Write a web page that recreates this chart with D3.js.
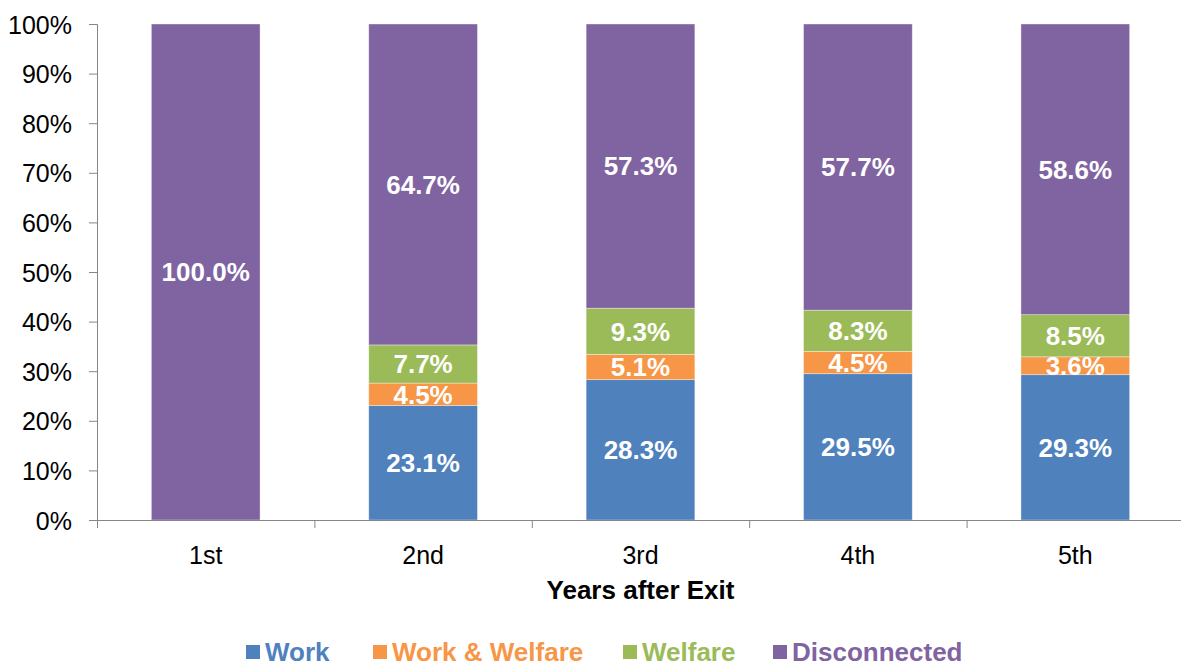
<!DOCTYPE html>
<html>
<head>
<meta charset="utf-8">
<script src="https://cdn.jsdelivr.net/npm/d3@7"></script>
<style>
  body { margin: 0; background: #fff; }
  svg { display: block; font-family: "Liberation Sans", Arial, sans-serif; }
  .axis path, .axis line { stroke: #868686; }
</style>
</head>
<body>
<div id="chart"></div>
<script>
var years = ["1st", "2nd", "3rd", "4th", "5th"];
var seriesNames = ["Work", "Work & Welfare", "Welfare", "Disconnected"];
var work = [0, 23.1, 28.3, 29.5, 29.3];
var workWelfare = [0, 4.5, 5.1, 4.5, 3.6];
var welfare = [0, 7.7, 9.3, 8.3, 8.5];
var disconnected = [100.0, 64.7, 57.3, 57.7, 58.6];
var yTicks = [0, 10, 20, 30, 40, 50, 60, 70, 80, 90, 100];
var colors = ["#4F81BD", "#F79646", "#9BBB59", "#8064A2"];

var svgWidth = 1181;
var svgHeight = 671;
var margin = {top: 24, right: -3, bottom: 151, left: 97};
var chartWidth = svgWidth - margin.left - margin.right;
var chartHeight = svgHeight - margin.top - margin.bottom;

var svg = d3.select("#chart")
  .append("svg")
  .attr("width", svgWidth)
  .attr("height", svgHeight);

var chartGroup = svg.append("g")
  .attr("transform", `translate(${margin.left},${margin.top})`);

// rows for the stack
var rows = years.map(function(y, i) {
  return {
    year: y,
    "Work": work[i],
    "Work & Welfare": workWelfare[i],
    "Welfare": welfare[i],
    "Disconnected": disconnected[i]
  };
});

var stacked = d3.stack().keys(seriesNames)(rows);

var x = d3.scaleBand()
  .domain(years)
  .range([0, chartWidth])
  .paddingInner(0.5)
  .paddingOuter(0.25);

var y = d3.scaleLinear()
  .domain([0, 100])
  .range([chartHeight, 0]);

var color = d3.scaleOrdinal().domain(seriesNames).range(colors);

// bars
var layers = chartGroup.selectAll("g.layer")
  .data(stacked)
  .enter()
  .append("g")
  .attr("class", "layer")
  .attr("fill", d => color(d.key));

layers.selectAll("rect")
  .data(d => d.filter(p => p[1] - p[0] > 0))
  .enter()
  .append("rect")
  .attr("x", d => x(d.data.year))
  .attr("y", d => y(d[1]))
  .attr("width", x.bandwidth())
  .attr("height", d => y(d[0]) - y(d[1]))
  .attr("stroke", "#ffffff")
  .attr("stroke-opacity", 0.45)
  .attr("stroke-width", 0.8);

// labels inside segments
layers.selectAll("text")
  .data(d => d.filter(p => p[1] - p[0] > 0))
  .enter()
  .append("text")
  .attr("x", d => x(d.data.year) + x.bandwidth() / 2)
  .attr("y", d => y((d[0] + d[1]) / 2))
  .attr("dy", "0.36em")
  .attr("text-anchor", "middle")
  .attr("fill", "#ffffff")
  .style("font-size", "26px")
  .style("font-weight", "bold")
  .text(d => (d[1] - d[0]).toFixed(1) + "%");

// y axis
var yAxis = chartGroup.append("g")
  .attr("class", "axis")
  .call(d3.axisLeft(y).tickValues(yTicks).tickSize(8).tickPadding(17).tickFormat(d => d + "%"));
yAxis.select(".domain").attr("d", `M-8,0.5H0.5V${chartHeight}`);
yAxis.selectAll("text")
  .attr("fill", "#000")
  .style("font-size", "25px")
  .attr("dy", "0.36em");

// x axis baseline, labels and boundary ticks
var xAxis = chartGroup.append("g")
  .attr("class", "axis")
  .attr("transform", `translate(0, ${chartHeight})`)
  .call(d3.axisBottom(x).tickSize(0).tickPadding(26));
xAxis.select(".domain").attr("d", `M0,0.5H${chartWidth}`);
xAxis.selectAll("text")
  .attr("fill", "#000")
  .style("font-size", "25px");

var bounds = d3.range(years.length + 1).map(i => i * x.step());
xAxis.selectAll("line.bound")
  .data(bounds)
  .enter()
  .append("line")
  .attr("class", "bound")
  .attr("x1", d => d + 0.5)
  .attr("x2", d => d + 0.5)
  .attr("y1", 0)
  .attr("y2", 8);

// axis title
chartGroup.append("text")
  .attr("x", (x("3rd") + x.bandwidth() / 2))
  .attr("y", chartHeight + 79)
  .attr("text-anchor", "middle")
  .style("font-size", "26px")
  .style("font-weight", "bold")
  .text("Years after Exit");

// legend
var legendX = [246, 373, 623, 773];
var legend = svg.append("g")
  .selectAll("g")
  .data(seriesNames)
  .enter()
  .append("g")
  .attr("transform", (d, i) => `translate(${legendX[i]}, 645)`);

legend.append("rect")
  .attr("width", 14)
  .attr("height", 14)
  .attr("fill", d => color(d));

legend.append("text")
  .attr("x", 19)
  .attr("y", 16)
  .attr("fill", d => color(d))
  .style("font-size", "26px")
  .style("font-weight", "bold")
  .text(d => d);
</script>
</body>
</html>
